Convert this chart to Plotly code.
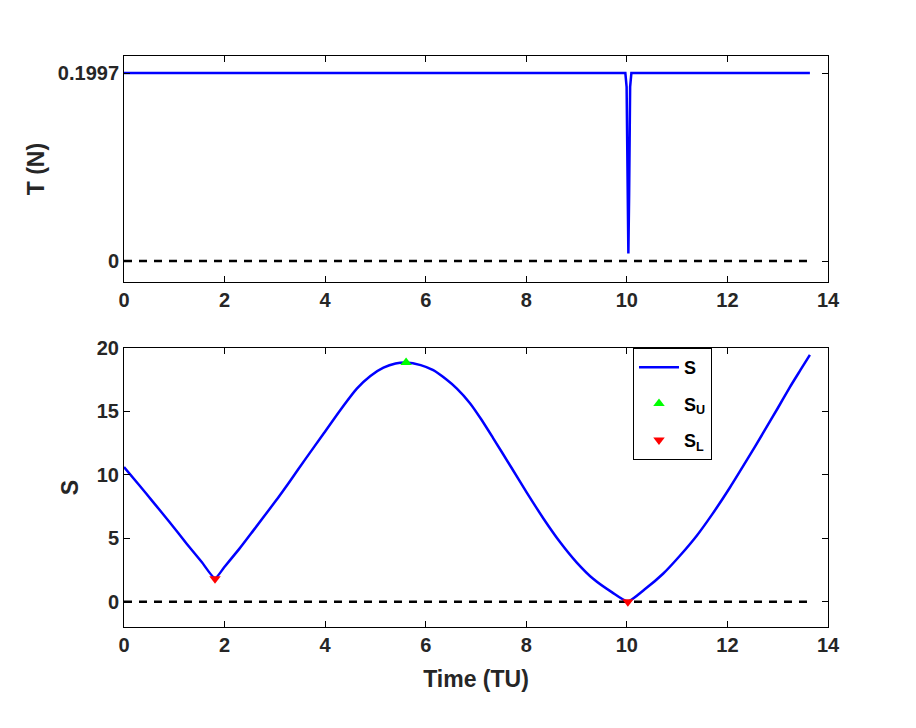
import plotly.graph_objects as go
from plotly.subplots import make_subplots

# ---- data ----
t_T = [0, 9.97, 9.995, 10.005, 10.015, 10.03, 10.045, 10.055, 10.065, 10.09, 13.64]
T = [0.1997, 0.1997, 0.185, 0.14, 0.07, 0.008, 0.07, 0.14, 0.185, 0.1997, 0.1997]

t_S = [0, 0.3, 0.58, 0.9, 1.25, 1.55, 1.81,
       2.0, 2.3, 2.57, 3.0, 3.3, 3.6, 3.96, 4.3, 4.63, 4.9, 5.16, 5.4, 5.61,
       5.9, 6.15, 6.4, 6.62, 6.88, 7.1, 7.34, 7.7, 8.01, 8.35, 8.67, 9.0, 9.33, 9.7, 10.02,
       10.35, 10.72, 11.05, 11.39, 11.7, 12.05, 12.4, 12.71, 13.0, 13.24, 13.45, 13.64]
S = [10.62, 9.2, 7.85, 6.3, 4.55, 3.1, 1.85,
     2.75, 4.2, 5.6, 7.85, 9.5, 11.2, 13.2, 15.1, 16.8, 17.8, 18.45, 18.78, 18.86,
     18.65, 18.25, 17.55, 16.8, 15.65, 14.4, 12.9, 10.6, 8.6, 6.5, 4.7, 3.1, 1.8, 0.75, 0.02,
     0.95, 2.2, 3.6, 5.2, 6.9, 9.0, 11.25, 13.3, 15.25, 16.9, 18.25, 19.46]

t_SU = [5.61]
S_U = [18.86]
t_SL = [1.81, 10.02]
S_L = [1.8, 0.0]

t_zero = [0, 13.64]
zero_line = [0, 0]

x_ticks = [0, 2, 4, 6, 8, 10, 12, 14]
T_ticks = [0, 0.1997]
T_ticktext = ["0", "0.1997"]
S_ticks = [0, 5, 10, 15, 20]

FONT = "Liberation Sans, Arial, sans-serif"
TXT = "#262626"

fig = make_subplots(rows=2, cols=1, vertical_spacing=0.0)

# top panel
fig.add_trace(go.Scatter(x=t_T, y=T, mode="lines", line=dict(color="#0000ff", width=2.5),
                         showlegend=False), row=1, col=1)
fig.add_trace(go.Scatter(x=t_zero, y=zero_line, mode="lines",
                         line=dict(color="black", width=2.5, dash="8px,7px"), showlegend=False), row=1, col=1)

# bottom panel
fig.add_trace(go.Scatter(x=t_S, y=S, mode="lines", name="S", legendgroup="a",
                         line=dict(color="#0000ff", width=2.5, shape="spline", smoothing=0.6)), row=2, col=1)
fig.add_trace(go.Scatter(x=t_zero, y=zero_line, mode="lines",
                         line=dict(color="black", width=2.5, dash="8px,7px"), showlegend=False), row=2, col=1)
fig.add_trace(go.Scatter(x=t_SU, y=S_U, mode="markers", name="S<sub>U</sub>", legendgroup="b",
                         marker=dict(symbol="triangle-up", color="#00ff00", size=10)), row=2, col=1)
fig.add_trace(go.Scatter(x=t_SL, y=S_L, mode="markers", name="S<sub>L</sub>", legendgroup="c",
                         marker=dict(symbol="triangle-down", color="#ff0000", size=10)), row=2, col=1)

axis_common = dict(showline=True, linecolor="black", linewidth=1, mirror="ticks",
                   ticks="inside", ticklen=6, tickcolor="black", showgrid=False, zeroline=False,
                   automargin=False,
                   tickfont=dict(family=FONT, size=20, color=TXT, weight="bold"))

fig.update_xaxes(range=[0, 14], tickvals=x_ticks, domain=[0, 1], **axis_common)
fig.update_yaxes(range=[-0.0223, 0.2178], tickvals=T_ticks, ticktext=T_ticktext, domain=[0.604, 1.0],
                 title=dict(text="T (N)", font=dict(family=FONT, size=23, color=TXT, weight="bold"), standoff=6),
                 row=1, col=1, **axis_common)
fig.update_yaxes(range=[-2, 20], tickvals=S_ticks, domain=[0.0, 0.4886],
                 title=dict(text="S", font=dict(family=FONT, size=23, color=TXT, weight="bold"), standoff=11),
                 row=2, col=1, **axis_common)
fig.update_xaxes(title=dict(text="Time (TU)", font=dict(family=FONT, size=23, color=TXT, weight="bold"), standoff=15),
                 row=2, col=1)

fig.update_layout(
    width=908, height=720,
    margin=dict(l=116, r=88, t=48, b=101),
    paper_bgcolor="white", plot_bgcolor="white",
    legend=dict(x=0.723, y=0.4886, xanchor="left", yanchor="top",
                bgcolor="white", bordercolor="black", borderwidth=1,
                font=dict(family=FONT, size=18, color="black", weight="bold"),
                tracegroupgap=10, itemwidth=40),
)

fig.write_html("out.html")
